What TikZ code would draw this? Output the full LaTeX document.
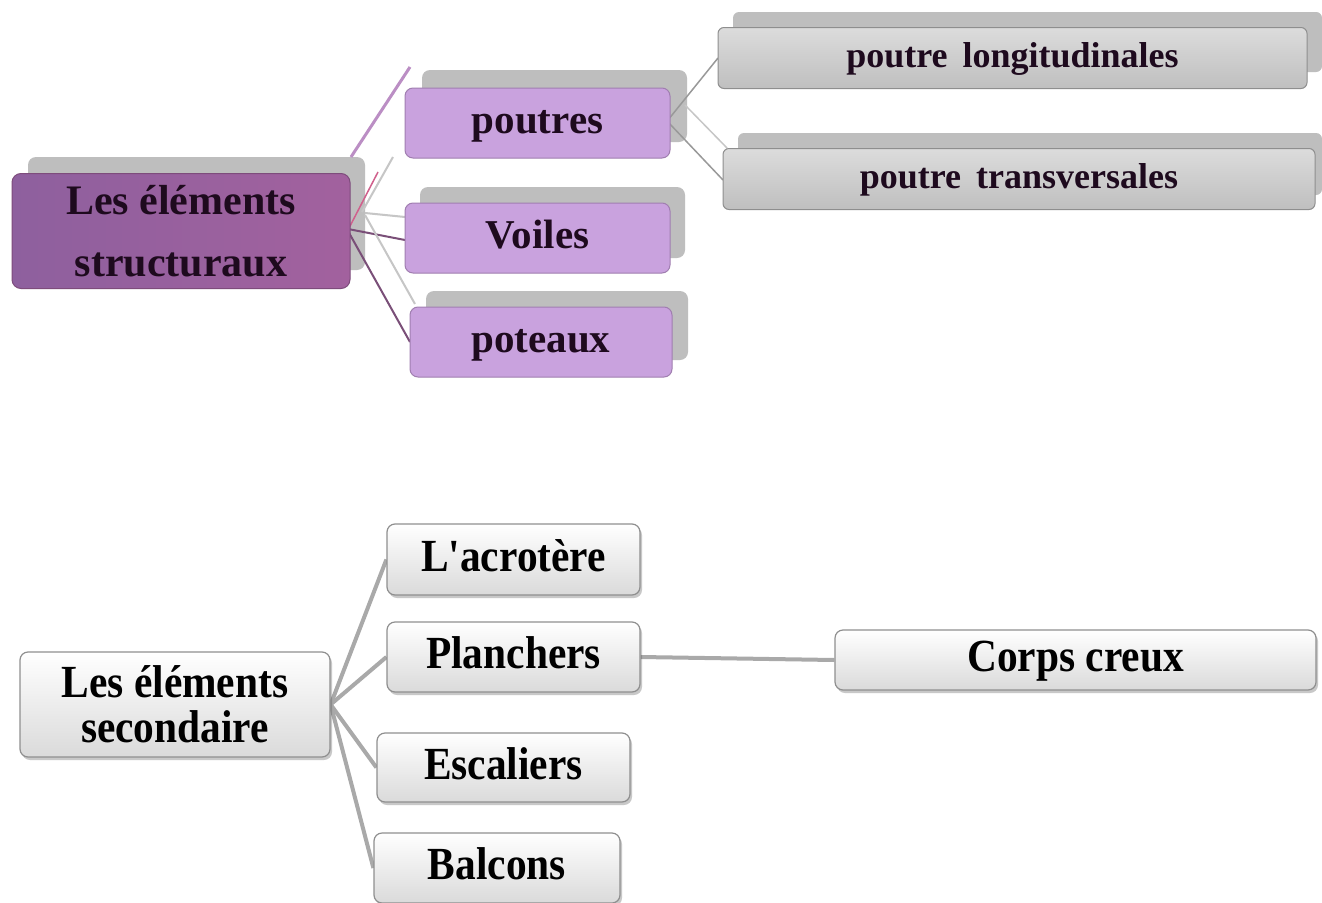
\documentclass[tikz,border=0pt]{standalone}
\usepackage{fontspec}
\setmainfont{Liberation Serif}
\newfontfamily\condfont[FakeStretch=0.9]{Liberation Serif}
\usetikzlibrary{shadows}
\definecolor{shad}{HTML}{BEBEBE}
\definecolor{topt}{HTML}{1E0A1E}
\definecolor{mainl}{HTML}{8E609E}
\definecolor{mainr}{HTML}{A2619E}
\definecolor{maind}{HTML}{7E4C7C}
\definecolor{childf}{HTML}{C9A2DE}
\definecolor{childd}{HTML}{A07EB0}
\definecolor{grayt}{HTML}{DCDCDC}
\definecolor{grayb}{HTML}{BFBFBF}
\definecolor{grayd}{HTML}{8E8E8E}
\definecolor{secd}{HTML}{8F8F8F}
\definecolor{secb}{HTML}{DADADA}
\definecolor{connc}{HTML}{A9A9A9}
\definecolor{lpur}{HTML}{BB8EC4}
\definecolor{dpur}{HTML}{7A4F78}
\definecolor{pinkc}{HTML}{D0608C}
\definecolor{lgray}{HTML}{C6C6C6}
\pgfdeclarelayer{bg}
\pgfdeclarelayer{lines}
\pgfsetlayers{bg,lines,main}
\begin{document}
\begin{tikzpicture}[x=1pt,y=-1pt,
  mainbox/.style={rounded corners=9pt, draw=maind, line width=1pt,
    left color=mainl, right color=mainr, minimum width=338pt, minimum height=115pt,
    inner sep=0pt, text=topt, align=center, font=\bfseries\fontsize{42}{62}\selectfont},
  childbox/.style={rounded corners=8pt, draw=childd, line width=1pt, fill=childf,
    minimum width=265pt, minimum height=70pt, inner sep=0pt, text=topt,
    text height=31pt, text depth=10pt, font=\bfseries\fontsize{41}{45}\selectfont},
  graybox/.style={rounded corners=6pt, draw=grayd, line width=1pt,
    top color=grayt, bottom color=grayb, minimum height=61pt, inner sep=0pt,
    text=topt, text height=28pt, text depth=9pt, font=\bfseries\fontsize{36}{40}\selectfont},
  secbox/.style={rounded corners=8pt, draw=secd, line width=1.2pt,
    top color=white, bottom color=secb, inner sep=0pt, align=center,
    drop shadow={shadow xshift=2pt, shadow yshift=-3pt, opacity=.3, fill=black!70},
    font=\condfont\bfseries\fontsize{46}{45}\selectfont},
  secone/.style={secbox, text height=33pt, text depth=10pt},
  shadowbox/.style={fill=shad, rounded corners=8pt},
  conn/.style={draw=connc, line width=4pt},
  tline/.style={line width=#1},
]
\useasboundingbox (0,0) rectangle (1322,902);

% ---------- top part ----------
\begin{pgfonlayer}{bg}
\fill[white] (0,0) rectangle (1322,902);
\fill[shadowbox] (28,157) rectangle (365,270);
\fill[shadowbox] (422,70) rectangle (687,142);
\fill[shadowbox] (420,187) rectangle (685,258);
\fill[shadowbox] (426,291) rectangle (688,360);
\fill[shadowbox, rounded corners=6pt] (733,12) rectangle (1322,72);
\fill[shadowbox, rounded corners=6pt] (738,133) rectangle (1322,195);
\end{pgfonlayer}

\node[mainbox] (A) at (181,231) {Les éléments\\structuraux};
\node[childbox] (P) at (537.5,123) {poutres};
\node[childbox] (V) at (537.5,238) {Voiles};
\node[childbox, minimum width=262pt] (Pt) at (541,342) {poteaux};
\node[graybox, minimum width=589pt] (L) at (1012.5,58) {poutre\, longitudinales};
\node[graybox, minimum width=592pt] (T) at (1019,179) {poutre\, transversales};

\coordinate (a1) at (351,157);  \coordinate (e1) at (410,67);
\coordinate (a2) at (362,212);  \coordinate (e2) at (393,157);
\coordinate (a3) at (349,228);  \coordinate (e3) at (378,172);
\coordinate (a4) at (365,213);  \coordinate (e4) at (405,217);
\coordinate (a5) at (348,229);  \coordinate (e5) at (405,240);
\coordinate (a6) at (365,215);  \coordinate (e6) at (415,304);
\coordinate (a7) at (348,231);  \coordinate (e7) at (410,342);
\coordinate (p1) at (668,120);  \coordinate (p2) at (668,122);
\coordinate (p3) at (685,105);  \coordinate (q3) at (727,148);
\coordinate (l1) at (718,58);   \coordinate (t1) at (723,180);

\begin{pgfonlayer}{lines}
\draw[lpur, tline=3pt] (a1) -- (e1);
\draw[lgray, tline=2pt] (a2) -- (e2);
\draw[pinkc, tline=1.5pt] (a3) -- (e3);
\draw[lgray, tline=2pt] (a4) -- (e4);
\draw[dpur, tline=2pt] (a5) -- (e5);
\draw[lgray, tline=2pt] (a6) -- (e6);
\draw[dpur, tline=2pt] (a7) -- (e7);
\draw[black!40, tline=1.5pt] (p1) -- (l1);
\draw[black!40, tline=1.5pt] (p2) -- (t1);
\draw[lgray, tline=1.5pt] (p3) -- (q3);
\end{pgfonlayer}

% ---------- bottom part ----------
\node[secbox, minimum width=310pt, minimum height=105pt] (S) at (175,704.5) {Les éléments\\secondaire};
\node[secone, minimum width=253pt, minimum height=71pt] (Ac) at (513.5,559.5) {L'acrotère};
\node[secone, minimum width=253pt, minimum height=70pt] (Pl) at (513.5,657) {Planchers};
\node[secone, minimum width=253pt, minimum height=69pt] (Es) at (503.5,767.5) {Escaliers};
\node[secone, minimum width=246pt, minimum height=70pt] (Ba) at (497,868) {Balcons};
\node[secone, minimum width=481pt, minimum height=60pt] (Cc) at (1075.5,660) {Corps creux};

\begin{pgfonlayer}{lines}
\draw[conn] (S.east) -- (Ac.west);
\draw[conn] (S.east) -- (Pl.west);
\draw[conn] (S.east) -- (Es.west);
\draw[conn] (S.east) -- (Ba.west);
\draw[conn] (Pl.east) -- (Cc.west);
\end{pgfonlayer}
\end{tikzpicture}
\end{document}
